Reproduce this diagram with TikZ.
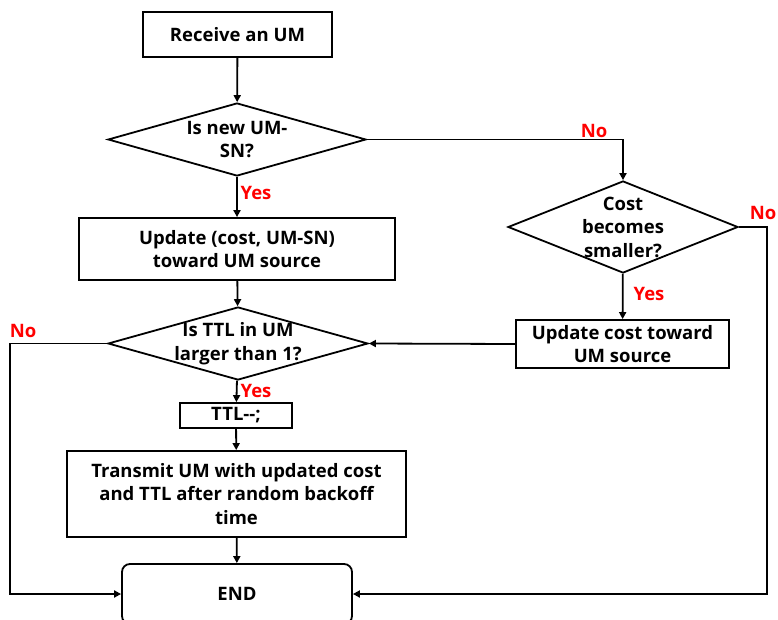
\documentclass[tikz,border=0pt]{standalone}
\usepackage{fontspec}
\setmainfont{Open Sans}
\usetikzlibrary{shapes.geometric, arrows.meta}

\begin{document}
\begin{tikzpicture}[
		x=1pt, y=-1pt,
		line width=1.8pt,
		every node/.style={font=\fontsize{18.5}{23.5}\selectfont\bfseries, align=center},
		procbox/.style={rectangle, draw, inner sep=0pt},
		decision/.style={diamond, draw, inner sep=-5pt},
		endbox/.style={rectangle, draw, rounded corners=8pt, inner sep=0pt},
		answer/.style={text=red, inner sep=0pt},
		flow/.style={-{Triangle[length=7pt, width=7pt]}}
	]
  \useasboundingbox (0,0) rectangle (778,620);
  % main column
  \node (recv) [procbox, minimum width=189pt, minimum height=45pt] at (237.5, 34.5) {Receive an UM};
  \node (q_new) [decision, minimum width=258pt, minimum height=73pt, aspect=3.53] at (237, 139.5) {Is new UM-\\SN?};
  \node (upd_both) [procbox, minimum width=316pt, minimum height=62pt] at (237, 249) {Update (cost, UM-SN)\\toward UM source};
  \node (q_ttl) [decision, minimum width=260pt, minimum height=73pt, aspect=3.56] at (238, 343.5) {Is TTL in UM\\larger than 1?};
  \node (ttl_dec) [procbox, minimum width=112pt, minimum height=25pt] at (236, 415.5) {TTL-{}-;};
  \node (transmit) [procbox, minimum width=339pt, minimum height=86pt] at (236.5, 494) {Transmit UM with updated cost\\and TTL after random backoff\\time};
  \node (end) [endbox, minimum width=230pt, minimum height=60pt] at (237, 594) {END};
  % right column
  \node (q_cost) [decision, minimum width=230pt, minimum height=92pt, aspect=2.5] at (623, 227) {Cost\\becomes\\smaller?};
  \node (upd_cost) [procbox, minimum width=213pt, minimum height=48pt] at (622.5, 344) {Update cost toward\\UM source};
  % rails for the two "No" returns
  \coordinate (left_rail) at (10, 0);
  \coordinate (right_rail) at (767, 0);
  % branch labels
  \node (no_new) [answer] at (594, 131) {No};
  \node (yes_new) [answer] at (256, 193) {Yes};
  \node (no_cost) [answer] at (763, 213) {No};
  \node (yes_cost) [answer] at (649, 294) {Yes};
  \node (no_ttl) [answer] at (23, 331) {No};
  \node (yes_ttl) [answer] at (256, 391) {Yes};
  % connectors
  \draw [flow] (recv) -- (q_new);
  \draw [flow] (q_new.east) -| (q_cost.north);
  \draw [flow] (q_new) -- (upd_both);
  \draw [flow] (upd_both) -- (q_ttl);
  \draw [flow] (q_cost) -- (upd_cost);
  \draw [flow] (upd_cost.west) -- (q_ttl.east);
  \draw [flow] (q_ttl) -- (ttl_dec);
  \draw [flow] (ttl_dec) -- (transmit);
  \draw [flow] (transmit) -- (end);
  \draw [flow] (q_cost.east) -- (q_cost.east -| right_rail) |- (end.east);
  \draw [flow] (q_ttl.west) -- (q_ttl.west -| left_rail) |- (end.west);
\end{tikzpicture}
\end{document}
